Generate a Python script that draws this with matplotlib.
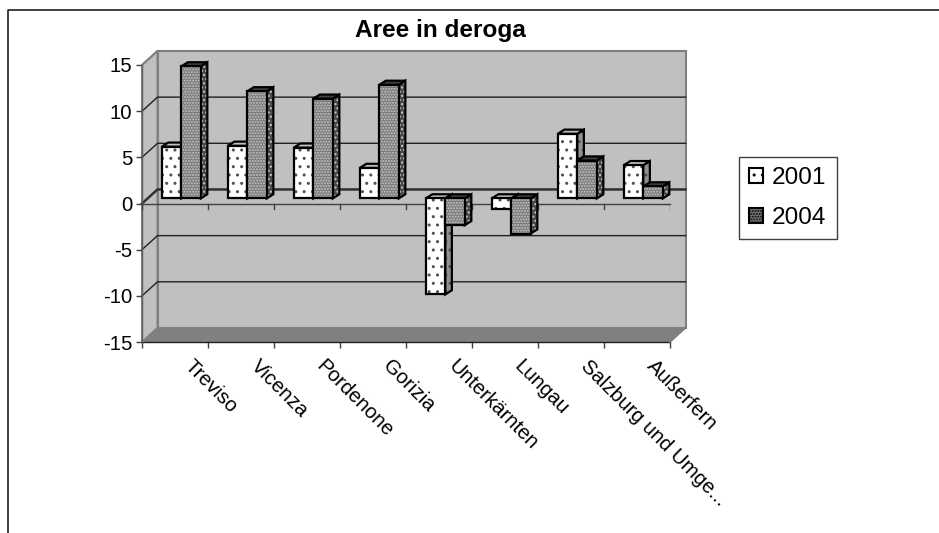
import matplotlib
matplotlib.use("Agg")
import matplotlib.pyplot as plt
from matplotlib.patches import Polygon, Patch

plt.rcParams["font.family"] = ["Liberation Sans", "DejaVu Sans"]
plt.rcParams["axes.unicode_minus"] = False

categories = ["Treviso", "Vicenza", "Pordenone", "Gorizia", "Unterkärnten",
              "Lungau", "Salzburg und Umge...", "Außerfern"]
y2001 = [5.6, 5.7, 5.5, 3.3, -10.4, -1.1, 7.0, 3.6]
y2004 = [14.3, 11.6, 10.8, 12.3, -2.9, -3.8, 4.1, 1.3]
yticks = [-15, -10, -5, 0, 5, 10, 15]

W, H = 939, 533
fig = plt.figure(figsize=(W / 100, H / 100), dpi=100)

# front plane of the box: x 142..670, y 65..342 in pixels
ax = fig.add_axes([142 / W, 1 - 342 / H, 528 / W, 277 / H])
ax.set_xlim(0, 8)
ax.set_ylim(-15, 15)
ax.patch.set_visible(False)
for s in ax.spines.values():
    s.set_visible(False)

# depth of the box and of the bars, in data units
DX, DY = 0.235, 1.52
BX, BY = 0.075, 0.55
BAR_DX, BAR_DY = 0.1, 0.45
BAR_W = 0.295


def poly(pts, fc, ec="none", lw=0, z=1, hatch=None):
    p = Polygon(pts, closed=True, facecolor=fc, edgecolor=ec, linewidth=lw,
                zorder=z, clip_on=False, joinstyle="miter")
    if hatch:
        p.set_hatch(hatch)
    ax.add_patch(p)


def bar(x, v, fc, side, top, hcol, hatch, side_hatch, z):
    y0 = BY
    y1 = v + BY
    x0 = x + BX
    x1 = x0 + BAR_W
    hi = max(y0, y1)
    lo = min(y0, y1)
    front = [(x0, lo), (x1, lo), (x1, hi), (x0, hi)]
    sd = [(x1, lo), (x1 + BAR_DX, lo + BAR_DY), (x1 + BAR_DX, hi + BAR_DY), (x1, hi)]
    tp = [(x0, hi), (x1, hi), (x1 + BAR_DX, hi + BAR_DY), (x0 + BAR_DX, hi + BAR_DY)]
    for pts, col, h in [(sd, side, side_hatch), (tp, top, None), (front, fc, hatch)]:
        poly(pts, col, z=z)
        if h:
            poly(pts, "none", ec=hcol, lw=0, z=z, hatch=h)
        poly(pts, "none", ec="black", lw=1.6, z=z)


# walls and floor
poly([(DX, -15 + DY), (8 + DX, -15 + DY), (8 + DX, 15 + DY), (DX, 15 + DY)], "#c0c0c0", ec="#808080", lw=1.5, z=1)
poly([(0, -15), (DX, -15 + DY), (DX, 15 + DY), (0, 15)], "#c0c0c0", ec="#808080", lw=1.5, z=1)
poly([(0, -15), (8, -15), (8 + DX, -15 + DY), (DX, -15 + DY)], "#808080", z=2)

# gridlines on back and left wall
for t in yticks[1:-1]:
    lw = 1.8 if t == 0 else 1.0
    col = "#303030" if t == 0 else "#202020"
    ax.plot([0, DX, 8 + DX], [t, t + DY, t + DY], color=col, lw=lw, zorder=3, clip_on=False)
ax.plot([0, DX], [15, 15 + DY], color="#808080", lw=1.2, zorder=3, clip_on=False)

# front edges and tick marks
ax.plot([0, 8], [0, 0], color="#404040", lw=1.0, zorder=4, clip_on=False)
ax.plot([0, 8], [-15, -15], color="#202020", lw=1.0, zorder=4, clip_on=False)
ax.plot([0, 0], [-15, 15], color="#606060", lw=1.0, zorder=4, clip_on=False)
ax.plot([8, 8 + DX], [-15, -15 + DY], color="#808080", lw=1.2, zorder=4, clip_on=False)
ax.set_xticks(range(9))
ax.set_xticklabels([])
ax.set_yticks(yticks)
ax.tick_params(axis="y", length=4, width=1, color="#404040", labelsize=14.7, pad=3)
ax.tick_params(axis="x", length=4, width=1, color="#404040")
for i in range(9):
    ax.plot([i, i], [0, -0.55], color="#404040", lw=1, zorder=4)

# bars, back to front
for i in range(len(categories)):
    bar(i + 0.225, y2001[i], "white", "#909090", "#c0c0c0", "#505050", "..", "..", 5 + 2 * i)
    bar(i + 0.225 + BAR_W, y2004[i], "#787878", "#484848", "#404040", "#c8c8c8", "......", "....", 6 + 2 * i)

# category labels
for i, c in enumerate(categories):
    ax.annotate(c, xy=(i + 0.5, -15), xytext=(9, -15.5), textcoords="offset points",
                rotation=-45, rotation_mode="anchor", ha="left", va="center", fontsize=14.7)

fig.text(440.5 / W, 1 - 30 / H, "Aree in deroga", fontsize=17.6, fontweight="bold",
         ha="center", va="center")

handles = [Patch(facecolor="white", edgecolor="black", linewidth=1.5, hatch=".."),
           Patch(facecolor="#787878", edgecolor="black", linewidth=1.5, hatch="......")]
leg = fig.legend(handles, ["2001", "2004"], loc="upper left",
                 bbox_to_anchor=(739 / W, 1 - 157 / H), fontsize=17.6, fancybox=False,
                 edgecolor="#404040", framealpha=1, handlelength=0.57, handleheight=0.57,
                 handletextpad=0.37, labelspacing=0.72, borderpad=0.42, borderaxespad=0)
leg.get_frame().set_linewidth(1.0)

# outer chart frame
fig.add_artist(plt.Line2D([8 / W, 8 / W, 1], [0, 1 - 10 / H, 1 - 10 / H], color="#202020", lw=1.2))

fig.savefig("out.png", dpi=100)
